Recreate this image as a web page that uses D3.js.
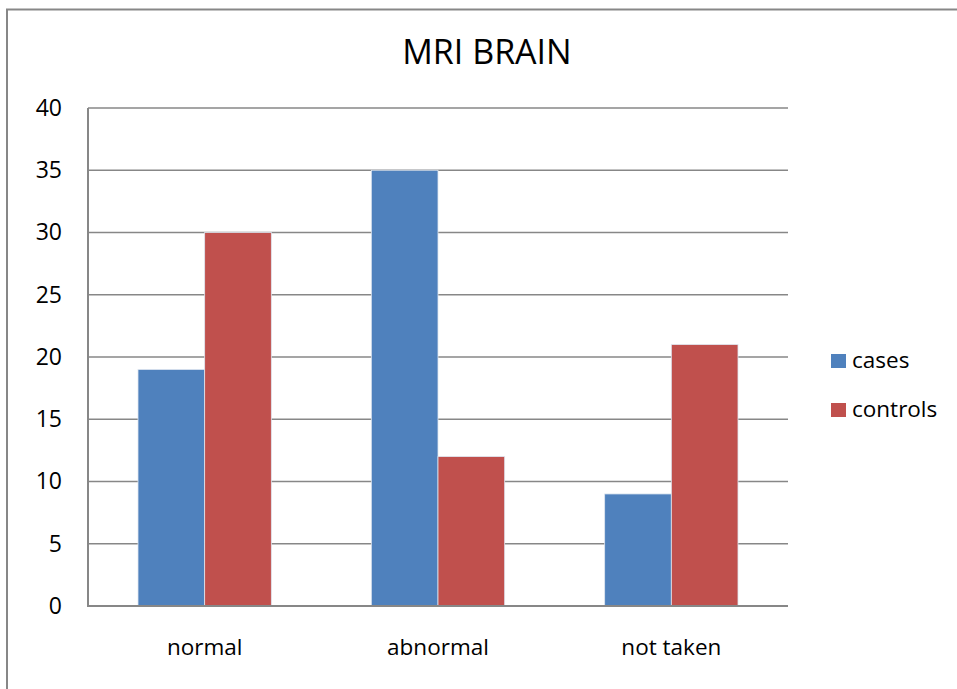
<!DOCTYPE html>
<html>
<head>
<meta charset="utf-8">
<script src="https://cdn.jsdelivr.net/npm/d3@7"></script>
<style>
  html, body { margin: 0; padding: 0; background: #fff; }
  svg text { font-family: "Open Sans", "Noto Sans", sans-serif; fill: #000; }
</style>
</head>
<body>
<script>
// Chart data
const categories = ["normal", "abnormal", "not taken"];
const seriesNames = ["cases", "controls"];
const casesValues = [19, 35, 9];
const controlsValues = [30, 12, 21];
const yTicks = [0, 5, 10, 15, 20, 25, 30, 35, 40];
const seriesColors = ["#4F81BD", "#C0504D"];

const W = 957, H = 689;
const svg = d3.select("body").append("svg")
  .attr("width", W).attr("height", H);

// Outer frame (top and left edges visible)
svg.append("path")
  .attr("d", `M7,${H} L7,9.5 L${W},9.5`)
  .attr("fill", "none").attr("stroke", "#878787").attr("stroke-width", 2);

const plot = { left: 88, right: 788, top: 108, bottom: 606 };

const x = d3.scaleBand().domain(categories)
  .range([plot.left, plot.right]).paddingInner(0).paddingOuter(0);
const inner = d3.scaleBand().domain(seriesNames)
  .range([0, x.bandwidth()]).paddingOuter(0.75).paddingInner(0);
const y = d3.scaleLinear().domain([0, 40]).range([plot.bottom, plot.top]);

// Gridlines
svg.append("g").selectAll("line").data(yTicks.filter(d => d > 0)).join("line")
  .attr("x1", plot.left).attr("x2", plot.right)
  .attr("y1", d => y(d)).attr("y2", d => y(d))
  .attr("stroke", "#878787").attr("stroke-width", 1.5);

// Y axis labels
const yAxis = d3.axisLeft(y).tickValues(yTicks).tickSize(0).tickPadding(26);
const gy = svg.append("g").attr("transform", `translate(${plot.left},0)`).call(yAxis);
gy.select(".domain").remove();
gy.selectAll("text").style("font-size", "23px")
  .style("font-family", "'Open Sans', sans-serif").attr("fill", "#000");

// Bars
const rows = categories.map((c, i) => ({ cat: c, vals: [casesValues[i], controlsValues[i]] }));
const groups = svg.append("g").selectAll("g").data(rows).join("g")
  .attr("transform", d => `translate(${x(d.cat)},0)`);
groups.selectAll("rect")
  .data(d => d.vals.map((v, j) => ({ key: seriesNames[j], v, j })))
  .join("rect")
  .attr("x", d => inner(d.key))
  .attr("y", d => y(d.v))
  .attr("width", inner.bandwidth())
  .attr("height", d => y(0) - y(d.v))
  .attr("fill", d => seriesColors[d.j])
  .attr("stroke", "#dfe6f0").attr("stroke-width", 0.8);

// Axis lines
svg.append("line").attr("x1", plot.left).attr("x2", plot.left)
  .attr("y1", plot.top).attr("y2", plot.bottom)
  .attr("stroke", "#878787").attr("stroke-width", 2);
svg.append("line").attr("x1", plot.left - 1).attr("x2", plot.right)
  .attr("y1", plot.bottom).attr("y2", plot.bottom)
  .attr("stroke", "#878787").attr("stroke-width", 2);

// X axis labels
const xAxis = d3.axisBottom(x).tickSize(0).tickPadding(33);
const gx = svg.append("g").attr("transform", `translate(0,${plot.bottom})`).call(xAxis);
gx.select(".domain").remove();
gx.selectAll("text").style("font-size", "22.5px")
  .style("font-family", "'Open Sans', sans-serif").attr("fill", "#000");

// Title
svg.append("text").attr("x", 487).attr("y", 64)
  .attr("text-anchor", "middle").style("font-size", "34px")
  .text("MRI BRAIN");

// Legend
const legend = svg.append("g").selectAll("g").data(seriesNames).join("g")
  .attr("transform", (d, i) => `translate(831,${354 + i * 49})`);
legend.append("rect").attr("width", 15).attr("height", 14)
  .attr("fill", (d, i) => seriesColors[i]);
legend.append("text").attr("x", 21).attr("y", 14)
  .style("font-size", "22.5px").text(d => d);
</script>
</body>
</html>
